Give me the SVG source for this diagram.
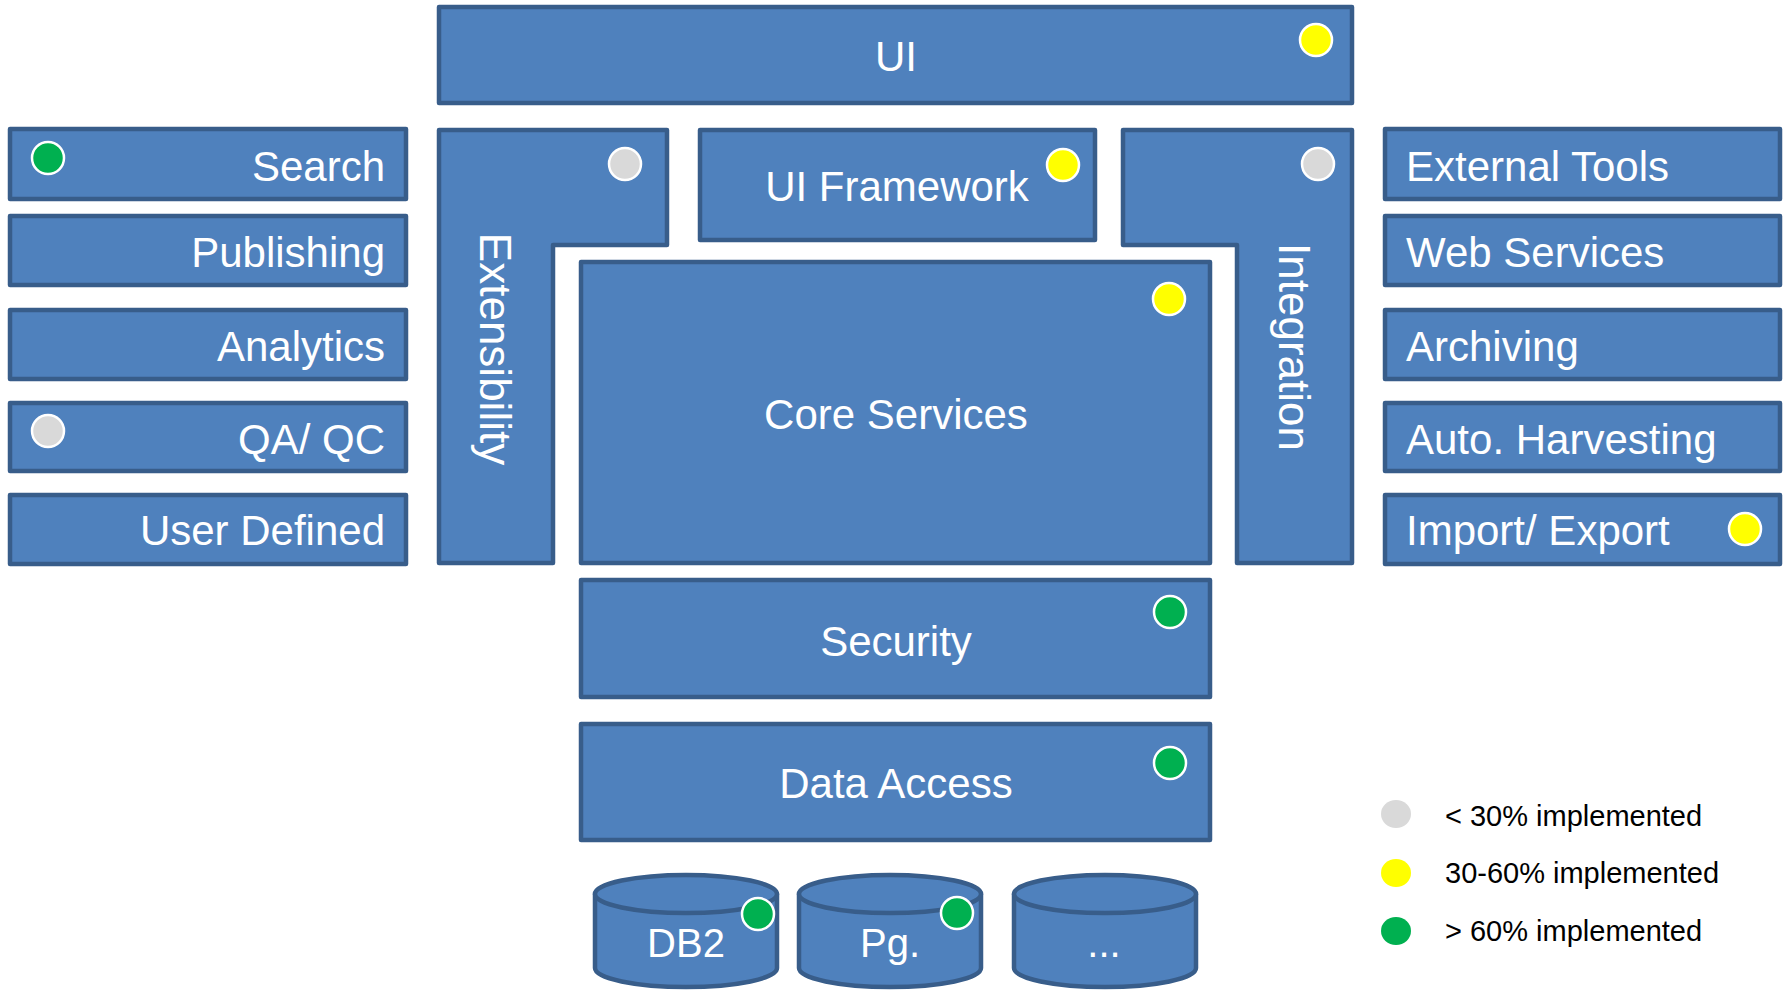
<svg xmlns="http://www.w3.org/2000/svg" width="1789" height="990" viewBox="0 0 1789 990">
<style>
.box{fill:#4F81BD;stroke:#385D8A;stroke-width:4.5;stroke-linejoin:round}
.t{font-family:"Liberation Sans",Arial,sans-serif;font-size:42px;fill:#FFFFFF}
.m{text-anchor:middle}
.e{text-anchor:end}
.dot{stroke:#FFFFFF;stroke-width:2.5}
.g{fill:#00B050}.y{fill:#FFFF00}.k{fill:#D9D9D9}
.lg{font-family:"Liberation Sans",Arial,sans-serif;font-size:29px;fill:#000000}
</style>
<rect width="1789" height="990" fill="#FFFFFF"/>
<g id="connectors"></g>
<g id="ui"><rect class="box" x="439" y="7" width="913" height="96"/><text class="t m" x="896" y="71">UI</text><circle class="dot y" cx="1316" cy="40" r="16"/></g>
<g id="extensibility"><path class="box" d="M439,130 L667,130 L667,245 L553,245 L553,563 L439,563 Z"/><text class="t m" x="480" y="349" transform="rotate(90 480 349)" style="font-size:44px">Extensibility</text><circle class="dot k" cx="625" cy="164" r="16"/></g>
<g id="ui-framework"><rect class="box" x="700" y="130" width="395" height="110"/><text class="t m" x="897" y="201">UI Framework</text><circle class="dot y" cx="1063" cy="165" r="16"/></g>
<g id="integration"><path class="box" d="M1123,130 L1352,130 L1352,563 L1237,563 L1237,245 L1123,245 Z"/><text class="t m" x="1279" y="347" transform="rotate(90 1279 347)" style="font-size:44px">Integration</text><circle class="dot k" cx="1318" cy="164" r="16"/></g>
<g id="core-services"><rect class="box" x="581" y="262" width="629" height="301"/><text class="t m" x="896" y="429">Core Services</text><circle class="dot y" cx="1169" cy="299" r="16"/></g>
<g id="security"><rect class="box" x="581" y="580" width="629" height="117"/><text class="t m" x="896" y="656">Security</text><circle class="dot g" cx="1170" cy="612" r="16"/></g>
<g id="data-access"><rect class="box" x="581" y="724" width="629" height="116"/><text class="t m" x="896" y="798">Data Access</text><circle class="dot g" cx="1170" cy="763" r="16"/></g>
<g id="search"><rect class="box" x="10" y="129" width="396" height="70"/><text class="t e" x="385" y="181">Search</text><circle class="dot g" cx="48" cy="158" r="16"/></g>
<g id="publishing"><rect class="box" x="10" y="216" width="396" height="69"/><text class="t e" x="385" y="267">Publishing</text></g>
<g id="analytics"><rect class="box" x="10" y="310" width="396" height="69"/><text class="t e" x="385" y="361">Analytics</text></g>
<g id="qa-qc"><rect class="box" x="10" y="403" width="396" height="68"/><text class="t e" x="385" y="454">QA/ QC</text><circle class="dot k" cx="48" cy="431" r="16"/></g>
<g id="user-defined"><rect class="box" x="10" y="495" width="396" height="69"/><text class="t e" x="385" y="545">User Defined</text></g>
<g id="external-tools"><rect class="box" x="1385" y="129" width="395" height="70"/><text class="t" x="1406" y="181">External Tools</text></g>
<g id="web-services"><rect class="box" x="1385" y="216" width="395" height="69"/><text class="t" x="1406" y="267">Web Services</text></g>
<g id="archiving"><rect class="box" x="1385" y="310" width="395" height="69"/><text class="t" x="1406" y="361">Archiving</text></g>
<g id="auto-harvesting"><rect class="box" x="1385" y="403" width="395" height="68"/><text class="t" x="1406" y="454">Auto. Harvesting</text></g>
<g id="import-export"><rect class="box" x="1385" y="495" width="395" height="69"/><text class="t" x="1406" y="545">Import/ Export</text><circle class="dot y" cx="1745" cy="529" r="16"/></g>
<g id="db2"><path class="box" d="M595,894 L595,968 A91,19 0 0 0 777,968 L777,894 Z"/><ellipse class="box" cx="686" cy="894" rx="91" ry="19"/><text class="t m" x="686" y="957" style="font-size:40px">DB2</text><circle class="dot g" cx="758" cy="914" r="16"/></g>
<g id="pg"><path class="box" d="M799,894 L799,968 A91,19 0 0 0 981,968 L981,894 Z"/><ellipse class="box" cx="890" cy="894" rx="91" ry="19"/><text class="t m" x="890" y="957" style="font-size:40px">Pg.</text><circle class="dot g" cx="957" cy="913" r="16"/></g>
<g id="more-db"><path class="box" d="M1014,894 L1014,968 A91,19 0 0 0 1196,968 L1196,894 Z"/><ellipse class="box" cx="1105" cy="894" rx="91" ry="19"/><text class="t m" x="1104" y="957" style="font-size:40px">...</text></g>
<g id="legend">
<ellipse class="k" cx="1396" cy="814" rx="15" ry="14"/><text class="lg" x="1445" y="826">&lt; 30% implemented</text>
<ellipse class="y" cx="1396" cy="873" rx="15" ry="14"/><text class="lg" x="1445" y="883">30-60% implemented</text>
<ellipse class="g" cx="1396" cy="931" rx="15" ry="14"/><text class="lg" x="1445" y="941">&gt; 60% implemented</text>
</g>
</svg>
